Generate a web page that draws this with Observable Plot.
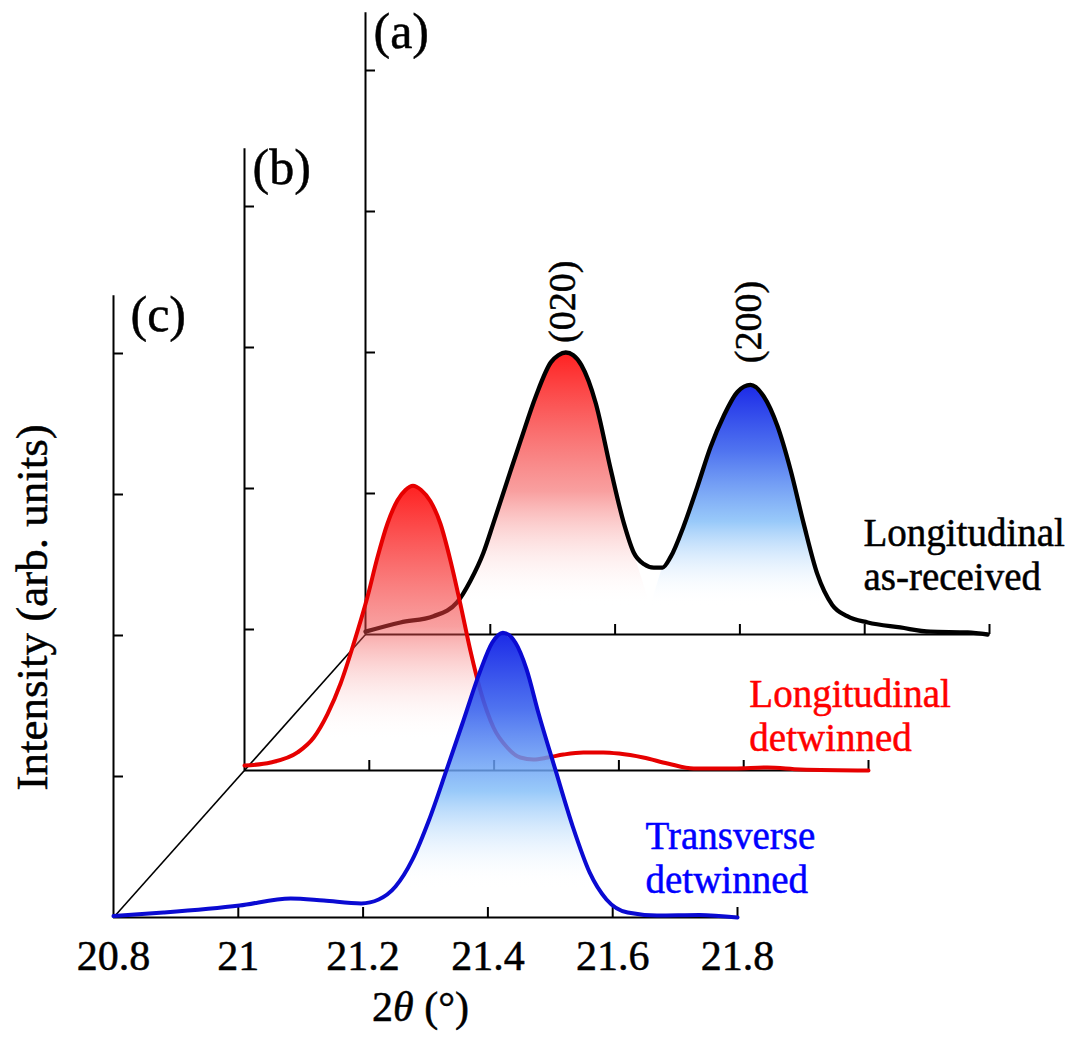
<!DOCTYPE html>
<html>
<head>
<meta charset="utf-8">
<script src="https://cdn.jsdelivr.net/npm/d3@7"></script>
<script src="https://cdn.jsdelivr.net/npm/@observablehq/plot@0.6"></script>
<style>
  html, body { margin: 0; padding: 0; background: #fff; }
  #chart svg text, #chart svg tspan { font-family: "Liberation Serif", "Times New Roman", serif !important; }
</style>
</head>
<body>
<div id="chart"></div>
<script>
// ---------------- DATA ----------------
const xTickValues = [20.8, 21, 21.2, 21.4, 21.6, 21.8];
const xTickLabels = ["20.8", "21", "21.2", "21.4", "21.6", "21.8"];
const yTickValues = [1, 2, 3, 4];

const panelNames = ["(a)", "(b)", "(c)"];
const seriesNames = ["Longitudinal\nas-received", "Longitudinal\ndetwinned", "Transverse\ndetwinned"];
const peakNames = ["(020)", "(200)"];

// (a) Longitudinal as-received
const thetaA = [20.80, 20.856, 20.909, 20.947, 20.968, 20.989, 21.005, 21.028, 21.049, 21.073, 21.097, 21.109, 21.121, 21.133, 21.146, 21.169, 21.193, 21.214, 21.230, 21.246, 21.262, 21.276, 21.289, 21.310, 21.332, 21.353, 21.374, 21.396, 21.417, 21.438, 21.460, 21.481, 21.502, 21.524, 21.548, 21.572, 21.605, 21.657, 21.705, 21.765, 21.797];
const intensityA = [0.02, 0.085, 0.13, 0.23, 0.38, 0.58, 0.79, 1.10, 1.38, 1.69, 1.93, 1.98, 2.00, 1.98, 1.91, 1.64, 1.17, 0.79, 0.58, 0.50, 0.475, 0.475, 0.55, 0.77, 1.05, 1.33, 1.55, 1.72, 1.77, 1.69, 1.48, 1.17, 0.79, 0.43, 0.21, 0.13, 0.085, 0.05, 0.02, 0.015, 0.0];

// (b) Longitudinal detwinned
const thetaB = [20.80, 20.842, 20.885, 20.911, 20.933, 20.954, 20.975, 20.997, 21.013, 21.029, 21.045, 21.058, 21.070, 21.083, 21.098, 21.114, 21.130, 21.146, 21.162, 21.178, 21.199, 21.221, 21.242, 21.263, 21.286, 21.311, 21.343, 21.375, 21.40, 21.439, 21.478, 21.52, 21.584, 21.638, 21.691, 21.80];
const intensityB = [0.035, 0.057, 0.128, 0.234, 0.40, 0.617, 0.90, 1.23, 1.51, 1.75, 1.915, 1.99, 2.02, 1.99, 1.91, 1.75, 1.49, 1.18, 0.85, 0.567, 0.305, 0.163, 0.092, 0.078, 0.092, 0.113, 0.128, 0.128, 0.12, 0.092, 0.05, 0.014, 0.014, 0.021, 0.007, 0.0];

// (c) Transverse detwinned
const thetaC = [20.80, 20.88, 21.002, 21.084, 21.137, 21.197, 21.225, 21.252, 21.279, 21.306, 21.334, 21.361, 21.387, 21.407, 21.424, 21.444, 21.462, 21.481, 21.508, 21.536, 21.563, 21.59, 21.624, 21.671, 21.739, 21.80];
const intensityC = [0.01, 0.035, 0.085, 0.135, 0.12, 0.10, 0.128, 0.22, 0.41, 0.695, 1.05, 1.40, 1.74, 1.95, 2.02, 1.95, 1.76, 1.45, 1.05, 0.645, 0.32, 0.128, 0.035, 0.014, 0.018, 0.0];

// Peak label positions (in panel (a)'s own 2θ axis)
const peakTheta = [21.117, 21.4146];
const peakLabelIntensity = [2.36, 2.216];

// ---------------- LAYOUT ----------------
const X0 = 20.8, X1 = 21.8, YTOP = 4.41, FILL_BASE = 0.2;
const TICK_X = 10 / 624, TICK_Y = 10 / 141;
const FONT = "Liberation Serif";
const TXT = (color) => ({fontFamily: FONT, fill: color, stroke: color, strokeWidth: 0.5, paintOrder: "stroke"});

const toPts = (th, iv) => th.map((t, i) => ({t, v: iv[i]}));
const ptsA = toPts(thetaA, intensityA);
const ptsB = toPts(thetaB, intensityB);
const ptsC = toPts(thetaC, intensityC);

function segment(pts, start, from, to, end) {
  return [{t: start, v: FILL_BASE}, ...pts.filter(p => p.t >= from && p.t <= to), {t: end, v: FILL_BASE}];
}

const panels = [
  {name: panelNames[0], shift: {x: 252 / 624, y: 283 / 141}, pts: ptsA, stroke: "#000", labelDx: 8, sw: 4.3,
   fills: [{data: segment(ptsA, 20.94, 20.947, 21.23, 21.257), fill: "url(#gRed)"},
           {data: segment(ptsA, 21.257, 21.276, 21.548, 21.556), fill: "url(#gBlue)"}],
   series: {text: seriesNames[0], t: 21.598, v: 0.849, color: "#000"}},
  {name: panelNames[1], shift: {x: 131 / 624, y: 147 / 141}, pts: ptsB, stroke: "#e60000", labelDx: 8, sw: 4,
   fills: [{data: segment(ptsB, 20.905, 20.911, 21.199, 21.214), fill: "url(#gRed)"}],
   series: {text: seriesNames[1], t: 21.609, v: 0.672, color: "#ff0000"}},
  {name: panelNames[2], shift: {x: 0, y: 0}, pts: ptsC, stroke: "#0a0ad2", labelDx: 17, sw: 4,
   fills: [{data: segment(ptsC, 21.246, 21.252, 21.563, 21.58), fill: "url(#gBlue)"}],
   series: {text: seriesNames[2], t: 21.6526, v: 0.707, color: "#0000ff"}}
];

function panelMarks(p) {
  const s = p.shift;
  return [
    // axes
    Plot.ruleY([s.y], {x1: X0 + s.x, x2: X1 + s.x, stroke: "#000", strokeWidth: 2}),
    Plot.ruleX([X0 + s.x], {y1: s.y, y2: YTOP + s.y, stroke: "#000", strokeWidth: 2}),
    Plot.ruleX(xTickValues.filter(t => t > X0), {x: d => d + s.x, y1: s.y, y2: s.y + TICK_Y, stroke: "#000", strokeWidth: 2}),
    Plot.ruleY(yTickValues, {y: d => d + s.y, x1: X0 + s.x, x2: X0 + s.x + TICK_X, stroke: "#000", strokeWidth: 2}),
    // gradient fills
    ...p.fills.map(f => Plot.areaY(f.data, {
      x: d => d.t + s.x, y1: FILL_BASE + s.y, y2: d => d.v + s.y,
      fill: f.fill, curve: "linear"
    })),
    // curve
    Plot.line(p.pts, {x: d => d.t + s.x, y: d => d.v + s.y, stroke: p.stroke, strokeWidth: p.sw,
      curve: "monotone-x", strokeLinejoin: "round", strokeLinecap: "round"}),
    // panel label
    Plot.text([p.name], {x: X0 + s.x, y: YTOP + s.y - 0.14, dx: p.labelDx, text: d => d,
      textAnchor: "start", lineAnchor: "middle", fontSize: 50, ...TXT("#000")}),
    // series label
    Plot.text([p.series.text], {x: p.series.t + s.x, y: p.series.v + s.y, text: d => d,
      textAnchor: "start", lineAnchor: "top", lineHeight: 1.13, fontSize: 39, ...TXT(p.series.color)})
  ];
}

const sa = panels[0].shift;

const marks = [
  ...panelMarks(panels[0]),
  // peak labels of (a)
  Plot.text(peakNames, {x: (d, i) => peakTheta[i] + sa.x, y: (d, i) => peakLabelIntensity[i] + sa.y, text: d => d,
    rotate: -90, textAnchor: "middle", lineAnchor: "middle", fontSize: 38, ...TXT("#000")}),
  // perspective diagonal from (c) origin to (a) origin
  Plot.link([0], {x1: X0, y1: 0, x2: X0 + sa.x, y2: sa.y, stroke: "#000", strokeWidth: 1.6}),
  ...panelMarks(panels[1]),
  ...panelMarks(panels[2]),
  // bottom tick labels
  Plot.text(xTickLabels, {x: (d, i) => xTickValues[i], y: 0, dy: 23, text: d => d,
    textAnchor: "middle", lineAnchor: "top", fontSize: 42, ...TXT("#000")}),
  // x title
  Plot.text(["2θ (°)"], {x: 21.292, y: -0.525, text: d => d, textAnchor: "middle", lineAnchor: "top",
    fontSize: 42, ...TXT("#000")}),
  // y title
  Plot.text(["Intensity (arb. units)"], {x: 20.67, y: 2.2, text: d => d, rotate: -90, textAnchor: "middle",
    lineAnchor: "middle", fontSize: 45, ...TXT("#000")})
];

const svg = Plot.plot({
  width: 1079,
  height: 1038,
  marginLeft: 113,
  marginRight: 342,
  marginTop: 917 - YTOP * 141,
  marginBottom: 121,
  x: {domain: [X0, X1], axis: null},
  y: {domain: [0, YTOP], axis: null},
  style: {fontFamily: FONT, background: "#fff", overflow: "visible"},
  marks
});

// gradients
const NS = "http://www.w3.org/2000/svg";
const defs = document.createElementNS(NS, "defs");
function gradient(id, stops) {
  const g = document.createElementNS(NS, "linearGradient");
  g.setAttribute("id", id);
  g.setAttribute("x1", "0"); g.setAttribute("y1", "0");
  g.setAttribute("x2", "0"); g.setAttribute("y2", "1");
  for (const [o, c, a] of stops) {
    const st = document.createElementNS(NS, "stop");
    st.setAttribute("offset", o);
    st.setAttribute("stop-color", c);
    st.setAttribute("stop-opacity", a);
    g.appendChild(st);
  }
  defs.appendChild(g);
}
gradient("gRed", [[0, "#ff1010", 0.93], [0.55, "#f24040", 0.5], [1, "#ffffff", 0]]);
gradient("gBlue", [[0, "#0f1ee6", 0.95], [0.3, "#3c64ee", 0.9], [0.62, "#7fbcf8", 0.8], [1, "#ffffff", 0]]);
svg.insertBefore(defs, svg.firstChild);

// italic theta in x title; force serif face on every text
svg.querySelectorAll("text").forEach(t => {
  t.style.fontFamily = "'Liberation Serif', 'Times New Roman', serif";
  if (t.textContent === "2θ (°)") {
    while (t.firstChild) t.removeChild(t.firstChild);
    const a = document.createElementNS(NS, "tspan"); a.textContent = "2";
    const b = document.createElementNS(NS, "tspan"); b.textContent = "θ"; b.setAttribute("font-style", "italic");
    const c = document.createElementNS(NS, "tspan"); c.textContent = " (°)";
    t.append(a, b, c);
  }
});

document.getElementById("chart").appendChild(svg);
</script>
</body>
</html>
